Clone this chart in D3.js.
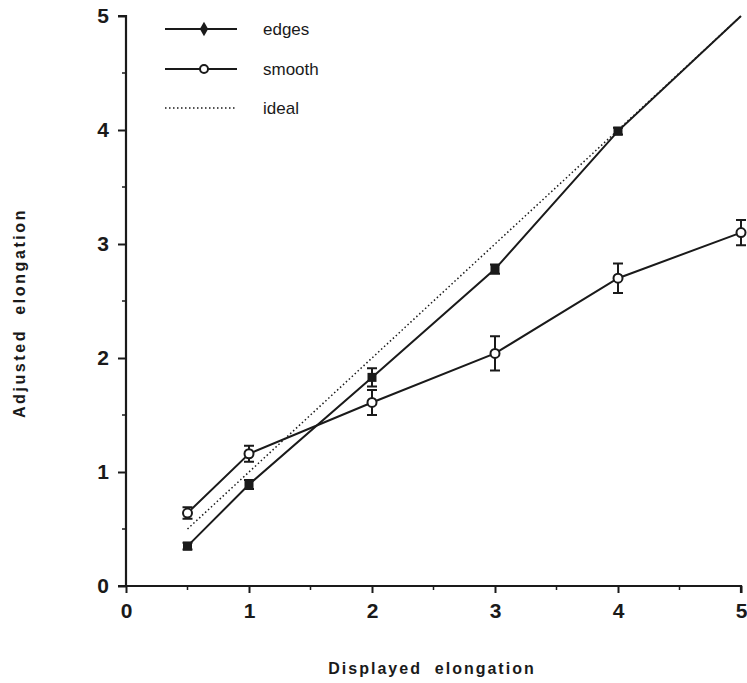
<!DOCTYPE html>
<html><head><meta charset="utf-8">
<script src="https://cdn.jsdelivr.net/npm/d3@7"></script>
<style>body{margin:0;background:#fff}svg{display:block}</style>
</head><body>
<script>
const xs = [0.5, 1, 2, 3, 4, 5];
const edges = [0.35, 0.89, 1.83, 2.78, 3.99, 5.0];
const edgesErr = [0.03, 0.04, 0.08, 0.04, 0.03, 0.0];
const smooth = [0.64, 1.16, 1.61, 2.04, 2.70, 3.10];
const smoothErr = [0.05, 0.07, 0.11, 0.15, 0.13, 0.11];
const ideal = [0.5, 5];
const ticks = [0, 1, 2, 3, 4, 5];
const legendLabels = ["edges", "smooth", "ideal"];

const W = 747, H = 683;
const svg = d3.select("body").append("svg").attr("width", W).attr("height", H);
const x = d3.scaleLinear().domain([0, 5]).range([126, 741]);
const y = d3.scaleLinear().domain([0, 5]).range([586, 16]);
const ink = "#1a1a1a";
const font = "Liberation Sans, Arial, Helvetica, sans-serif";

// axes
const xAxis = svg.append("g").attr("transform", `translate(0,${y(0)})`)
  .call(d3.axisBottom(x).tickValues(ticks).tickSize(7).tickPadding(10).tickFormat(d3.format("d")));
const yAxis = svg.append("g").attr("transform", `translate(${x(0)},0)`)
  .call(d3.axisLeft(y).tickValues(ticks).tickSize(8).tickPadding(9).tickFormat(d3.format("d")));
[xAxis, yAxis].forEach(g => {
  g.select(".domain").attr("stroke", ink).attr("stroke-width", 2.2);
  g.selectAll(".tick line").attr("stroke", ink).attr("stroke-width", 2);
  g.selectAll(".tick text").attr("fill", ink).attr("font-family", font)
    .attr("font-weight", "bold").attr("font-size", 21);
});
xAxis.select(".domain").attr("d", `M${x(0)-8},0H${x(5)}V7`);
yAxis.select(".domain").attr("d", `M-8,${y(5)}H0V${y(0)}`);
// minor ticks
const minor = [0.5, 1.5, 2.5, 3.5, 4.5];
svg.append("g").selectAll("line").data(minor).join("line")
  .attr("x1", d => x(d)).attr("x2", d => x(d)).attr("y1", y(0)).attr("y2", y(0) + 4)
  .attr("stroke", ink).attr("stroke-width", 1.5);
svg.append("g").selectAll("line").data(minor).join("line")
  .attr("x1", x(0)).attr("x2", x(0) - 4).attr("y1", d => y(d)).attr("y2", d => y(d))
  .attr("stroke", ink).attr("stroke-width", 1.5);

// titles
svg.append("text").attr("x", 432).attr("y", 674).attr("text-anchor", "middle")
  .attr("font-family", font).attr("font-weight", "bold").attr("font-size", 16)
  .attr("letter-spacing", 2).attr("fill", ink).attr("xml:space", "preserve")
  .text("Displayed  elongation");
svg.append("text").attr("transform", "translate(25,313) rotate(-90)").attr("text-anchor", "middle")
  .attr("font-family", font).attr("font-weight", "bold").attr("font-size", 16)
  .attr("letter-spacing", 2.6).attr("fill", ink).attr("xml:space", "preserve")
  .text("Adjusted  elongation");

// ideal
svg.append("line").attr("x1", x(ideal[0])).attr("y1", y(ideal[0]))
  .attr("x2", x(ideal[1])).attr("y2", y(ideal[1]))
  .attr("stroke", ink).attr("stroke-width", 1.5).attr("stroke-dasharray", "1.5,2.5");

const line = d3.line().x(d => x(d[0])).y(d => y(d[1]));
function series(vals, errs, filled) {
  const pts = xs.map((v, i) => [v, vals[i], errs[i]]);
  svg.append("path").attr("d", line(pts)).attr("fill", "none").attr("stroke", ink).attr("stroke-width", 2);
  const g = svg.append("g");
  pts.forEach(p => {
    if (p[2] > 0) {
      const cx = x(p[0]), t = y(p[1] + p[2]), b = y(p[1] - p[2]);
      g.append("path").attr("d", `M${cx},${t}V${b}M${cx-5},${t}H${cx+5}M${cx-5},${b}H${cx+5}`)
        .attr("stroke", ink).attr("stroke-width", 2).attr("fill", "none");
    }
  });
  pts.forEach(p => {
    if (filled) {
      if (p[2] > 0) g.append("rect").attr("x", x(p[0]) - 4.5).attr("y", y(p[1]) - 4.5).attr("width", 9).attr("height", 9).attr("fill", ink);
    } else {
      g.append("circle").attr("cx", x(p[0])).attr("cy", y(p[1])).attr("r", 4.5)
        .attr("fill", "#fff").attr("stroke", ink).attr("stroke-width", 2);
    }
  });
}
series(edges, edgesErr, true);
series(smooth, smoothErr, false);

// legend
const ly = [29, 69, 108];
const lg = svg.append("g");
legendLabels.forEach((lab, i) => {
  const l = lg.append("line").attr("x1", 165).attr("x2", 237).attr("y1", ly[i]).attr("y2", ly[i])
    .attr("stroke", ink).attr("stroke-width", i < 2 ? 2 : 1.5);
  if (i === 2) l.attr("stroke-dasharray", "1.5,2.5");
  if (i === 0) lg.append("path").attr("d", d3.symbol(d3.symbolDiamond, 60)())
    .attr("transform", `translate(204,${ly[i]})`).attr("fill", ink);
  if (i === 1) lg.append("circle").attr("cx", 204).attr("cy", ly[i]).attr("r", 4)
    .attr("fill", "#fff").attr("stroke", ink).attr("stroke-width", 2);
  lg.append("text").attr("x", 263).attr("y", ly[i] + 6).attr("font-family", font)
    .attr("font-size", 17).attr("fill", ink).text(lab);
});
</script>
</body></html>
